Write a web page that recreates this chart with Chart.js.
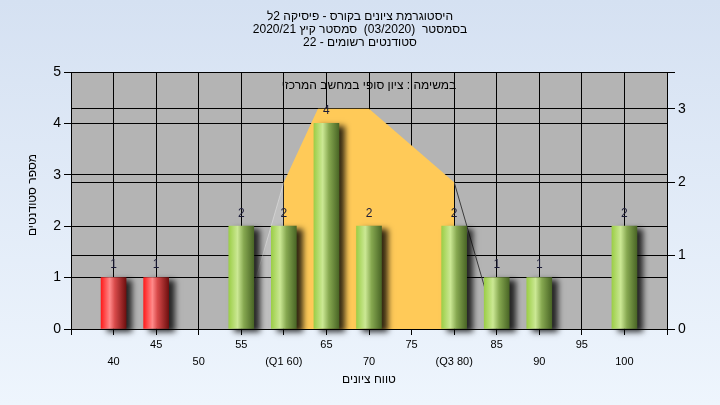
<!DOCTYPE html>
<html>
<head>
<meta charset="utf-8">
<script src="https://cdn.jsdelivr.net/npm/chart.js@4"></script>
<style>
    html, body { margin: 0; padding: 0; }
    body { width: 720px; height: 405px; background: linear-gradient(#d5e1f2, #eef5fd); }
    canvas { display: block; }
</style>
</head>
<body>
<canvas id="histChart" width="720" height="405"></canvas>
<script>
// grades histogram data
const scores = [40, 45, 50, 55, 60, 65, 70, 75, 80, 85, 90, 95, 100];
const studentCounts = [1, 1, 0, 2, 2, 4, 2, 0, 2, 1, 1, 0, 2];
const tickLabels = ['40', '45', '50', '55', '(Q1 60)', '65', '70', '75', '(Q3 80)', '85', '90', '95', '100'];
const passMark = 55;

// distribution shape drawn on the right axis
const curveScores = [55, 60, 64, 70, 80, 85];
const curveValues = [0, 2, 3, 3, 2, 0];
const q1 = 60;
const q3 = 80;

const titleLines = [
    'היסטוגרמת ציונים בקורס - פיסיקה 2ל',
    'בסמסטר  (03/2020)  סמסטר קיץ 2020/21',
    'סטודנטים רשומים - 22'
];
const plotNote = 'במשימה : ציון סופי במחשב המרכזי';
const xTitle = 'טווח ציונים';
const yTitle = 'מספר סטודנטים';

const FONT = "'Liberation Sans', Arial, sans-serif";

function curvePoints(filter) {
    return curveScores.map((s, i) => ({ x: s, y: curveValues[i] })).filter(filter);
}

function barGradient(context) {
    const chart = context.chart;
    const xScale = chart.scales.x;
    if (!xScale || !context.raw) return '#999';
    const cx = xScale.getPixelForValue(context.raw.x);
    if (!isFinite(cx)) return '#999';
    const g = chart.ctx.createLinearGradient(cx - 12.5, 0, cx + 12.5, 0);
    if (context.raw.x < passMark) {
        g.addColorStop(0, '#ff1c1c');
        g.addColorStop(0.35, '#ff8a8a');
        g.addColorStop(0.55, '#d84a4a');
        g.addColorStop(1, '#701010');
    } else {
        g.addColorStop(0, '#9cce48');
        g.addColorStop(0.35, '#cbe894');
        g.addColorStop(0.6, '#86a850');
        g.addColorStop(1, '#4a6626');
    }
    return g;
}

const decorPlugin = {
    id: 'decor',
    beforeDraw(chart) {
        const { ctx, chartArea } = chart;
        ctx.save();
        ctx.fillStyle = '#b4b4b4';
        ctx.fillRect(chartArea.left, chartArea.top, chartArea.right - chartArea.left, chartArea.bottom - chartArea.top);
        ctx.restore();
    },
    beforeDatasetDraw(chart, args) {
        if (args.meta.type !== 'bar') return;
        const ctx = chart.ctx;
        ctx.save();
        ctx.shadowColor = 'rgba(0,0,0,0.8)';
        ctx.shadowBlur = 6;
        ctx.shadowOffsetX = 6;
        ctx.shadowOffsetY = 3;
    },
    afterDatasetDraw(chart, args) {
        if (args.meta.type !== 'bar') return;
        chart.ctx.restore();
    },
    afterDraw(chart) {
        const { ctx, chartArea } = chart;
        const midX = (chartArea.left + chartArea.right) / 2;
        ctx.save();
        ctx.fillStyle = '#000';
        ctx.textAlign = 'center';
        ctx.textBaseline = 'middle';
        ctx.direction = 'rtl';

        // titles
        ctx.font = '12px ' + FONT;
        titleLines.forEach((line, i) => ctx.fillText(line, 360, 17 + i * 13));
        ctx.fillText(plotNote, midX, 86);
        ctx.fillText(xTitle, midX, 380);

        ctx.save();
        ctx.translate(33, 195);
        ctx.rotate(-Math.PI / 2);
        ctx.fillText(yTitle, 0, 0);
        ctx.restore();

        // value labels over bars
        ctx.direction = 'ltr';
        const meta = chart.getDatasetMeta(3);
        ctx.fillStyle = '#1c1c38';
        meta.data.forEach((bar, i) => {
            if (!studentCounts[i]) return;
            ctx.fillText(String(studentCounts[i]), bar.x, bar.y - 13);
        });
        ctx.restore();
    }
};

const ctx = document.getElementById('histChart').getContext('2d');
window.histChart = new Chart(ctx, {
    data: {
        datasets: [
            {
                type: 'line',
                label: 'q1-q3',
                data: curvePoints(p => p.x >= q1 && p.x <= q3),
                xAxisID: 'x',
                yAxisID: 'y1',
                fill: 'origin',
                backgroundColor: '#ffca58',
                borderWidth: 0,
                pointRadius: 0,
                tension: 0,
                order: 3
            },
            {
                type: 'line',
                label: 'low tail',
                data: curvePoints(p => p.x <= q1),
                xAxisID: 'x',
                yAxisID: 'y1',
                fill: 'origin',
                backgroundColor: 'rgba(255,255,255,0.16)',
                borderColor: 'rgba(255,255,255,0.35)',
                borderWidth: 1,
                pointRadius: 0,
                tension: 0,
                order: 3
            },
            {
                type: 'line',
                label: 'high tail',
                data: curvePoints(p => p.x >= q3),
                xAxisID: 'x',
                yAxisID: 'y1',
                fill: false,
                borderColor: '#3c3c3c',
                borderWidth: 1,
                pointRadius: 0,
                tension: 0,
                order: 3
            },
            {
                type: 'bar',
                label: 'students',
                data: scores.map((s, i) => ({ x: s, y: studentCounts[i] || null })),
                xAxisID: 'x',
                yAxisID: 'y',
                backgroundColor: barGradient,
                borderWidth: 0,
                barThickness: 25,
                clip: false,
                order: 1
            }
        ]
    },
    options: {
        responsive: false,
        animation: false,
        devicePixelRatio: 1,
        layout: { padding: { top: 72, left: 0, right: 0, bottom: 0 } },
        plugins: {
            legend: { display: false },
            title: { display: false },
            tooltip: { enabled: false }
        },
        scales: {
            x: {
                type: 'linear',
                min: 35,
                max: 105,
                offset: false,
                afterFit: scale => { scale.height = 76; },
                grid: { color: '#000', lineWidth: 1, tickLength: 6, offset: false },
                border: { color: '#000' },
                ticks: {
                    stepSize: 5,
                    autoSkip: false,
                    maxRotation: 0,
                    padding: 2,
                    color: '#000',
                    font: { family: FONT, size: 11, lineHeight: 1.5 },
                    callback: function(value) {
                        const idx = scores.indexOf(value);
                        if (idx < 0) return '';
                        return idx % 2 === 1 ? [tickLabels[idx], ''] : ['', tickLabels[idx]];
                    }
                }
            },
            y: {
                position: 'left',
                min: 0,
                max: 5,
                afterFit: scale => { scale.width = 71; },
                grid: { color: '#000', lineWidth: 1, tickLength: 7 },
                border: { color: '#000' },
                ticks: {
                    stepSize: 1,
                    padding: 3,
                    color: '#000',
                    font: { family: FONT, size: 14 }
                }
            },
            y1: {
                position: 'right',
                min: 0,
                max: 3.5,
                afterFit: scale => { scale.width = 53; },
                grid: { color: '#000', lineWidth: 1, tickLength: 8 },
                border: { color: '#000' },
                ticks: {
                    stepSize: 1,
                    padding: 3,
                    color: '#000',
                    font: { family: FONT, size: 14 },
                    callback: v => Number.isInteger(v) ? v : ''
                }
            }
        }
    },
    plugins: [decorPlugin]
});
// second pass so the bar gradients see finished scales
window.histChart.update();
</script>
</body>
</html>
